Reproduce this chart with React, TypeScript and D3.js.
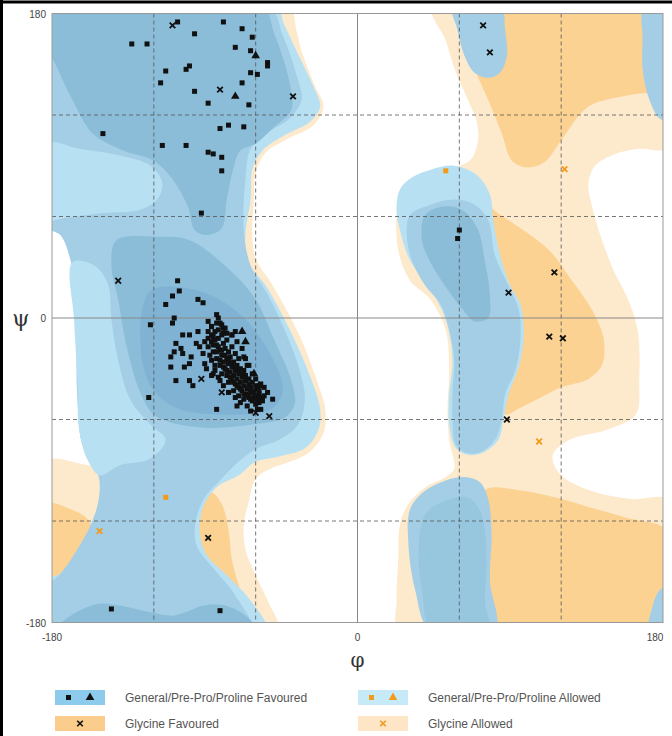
import { useEffect, useRef } from 'react';
import * as d3 from 'd3';

type Pt = [number, number];

// ---- contour regions (phi, psi in degrees) ----
const glyAllowedLeft: Pt[] = [[-122,185],[-41,185],[-36,170],[-33,158],[-25,137],[-20,125],[-26,114],[-41,106],[-54,98],[-60,86],[-61,70],[-62,50],[-60,35],[-51,21],[-42,5],[-33,-13],[-24,-37],[-19,-54],[-20,-68],[-28,-79],[-40,-85],[-51,-89],[-60,-95],[-64,-108],[-67,-122],[-66,-137],[-60,-152],[-53,-167],[-47,-185],[-122,-185]];
const glyAllowedCorner: Pt[] = [[-184,-85],[-164,-86],[-149,-91],[-143,-102],[-145,-116],[-152,-131],[-164,-146],[-175,-161],[-184,-167]];
const glyAllowedRight: Pt[] = [[44,185],[184,185],[184,101],[166,100],[152,97],[140,90],[136,79],[138,67],[143,49],[151,28],[159,12],[165,-7],[166,-37],[164,-57],[147,-66],[125,-72],[115,-81],[119,-92],[137,-102],[161,-107],[184,-108],[184,-185],[25,-185],[23,-167],[24,-143],[25,-122],[30,-110],[40,-100],[52,-94],[57,-89],[54,-72],[53,-54],[54,-31],[52,-7],[43,11],[31,22],[24,40],[23,61],[25,73],[34,82],[49,87],[66,93],[71,105],[70,117],[65,129],[57,148],[52,164]];

const glyFavCorner: Pt[] = [[-184,-110],[-169,-113],[-159,-119],[-155,-131],[-161,-143],[-172,-155],[-184,-164]];
const glyFavSliver: Pt[] = [[-93,-105],[-86,-103],[-80,-110],[-76,-125],[-74,-143],[-69,-161],[-62,-185],[-93,-185],[-96,-161],[-96,-131]];
const glyFavTop: Pt[] = [[57,185],[62,180],[69,148],[77,129],[85,109],[91,93],[100,89],[110,92],[120,105],[136,125],[156,131],[169,133],[184,134],[184,185]];
const glyFavMid: Pt[] = [[75,67],[84,61],[99,51],[113,40],[125,24],[138,5],[145,-12],[144,-28],[136,-36],[120,-41],[108,-47],[96,-53],[87,-57],[84,-37],[87,-13],[81,11],[77,34],[75,52]];
const glyFavBottom: Pt[] = [[75,-102],[96,-102],[116,-106],[137,-112],[158,-118],[184,-127],[184,-185],[77,-185],[78,-143]];

const genAllowedLeft: Pt[] = [[-184,185],[-49,185],[-43,173],[-36,158],[-26,137],[-22,125],[-28,116],[-43,108],[-56,99],[-62,88],[-63,70],[-66,50],[-65,34],[-54,19],[-46,5],[-37,-13],[-27,-37],[-22,-54],[-23,-66],[-31,-77],[-47,-82],[-60,-85],[-70,-93],[-83,-100],[-91,-112],[-93,-127],[-89,-140],[-77,-152],[-63,-167],[-54,-185],[-184,-185],[-184,-155],[-175,-151],[-164,-135],[-158,-125],[-153,-113],[-152,-96],[-155,-87],[-162,-75],[-165,-48],[-166,11],[-169,34],[-175,49],[-184,55]];
const genAllowedMidRight: Pt[] = [[25,76],[32,83],[44,88],[57,90],[71,84],[78,73],[80,58],[84,37],[90,19],[96,8],[98,-10],[95,-29],[89,-45],[86,-60],[83,-72],[75,-79],[66,-81],[58,-77],[54,-63],[54,-45],[56,-25],[52,-1],[43,17],[31,34],[25,52],[23,64]];

const genMidLeft: Pt[] = [[-184,185],[-53,185],[-44,167],[-36,144],[-33,129],[-40,118],[-54,109],[-63,100],[-66,82],[-67,52],[-63,31],[-53,14],[-43,-7],[-34,-31],[-31,-48],[-35,-63],[-46,-72],[-59,-77],[-69,-84],[-80,-95],[-90,-106],[-95,-119],[-95,-134],[-84,-149],[-72,-164],[-63,-185],[-184,-185],[-184,-161],[-174,-150],[-164,-135],[-158,-124],[-153,-110],[-152,-96],[-155,-87],[-162,-75],[-165,-48],[-166,11],[-169,34],[-175,49],[-184,55]];
const genMidRight: Pt[] = [[31,61],[43,67],[57,70],[69,67],[77,58],[81,37],[89,19],[95,5],[96,-13],[93,-31],[87,-45],[85,-60],[81,-72],[73,-79],[65,-80],[58,-75],[56,-60],[56,-43],[57,-25],[54,-7],[49,8],[40,19],[32,34],[29,49]];
const genTopRight: Pt[] = [[56,185],[84,185],[87,170],[88,155],[84,145],[77,142],[69,145],[63,155],[59,170]];
const genCornerTop: Pt[] = [[169,185],[184,185],[184,117],[178,118],[172,129],[168,147],[168,164]];
const genCornerBottom: Pt[] = [[172,-185],[184,-185],[184,-158],[178,-161],[174,-170]];
const genBottomRight: Pt[] = [[43,-185],[34,-161],[30,-134],[31,-113],[40,-102],[52,-96],[63,-94],[72,-97],[77,-107],[79,-128],[78,-155],[81,-185]];

const lightPatchTop: Pt[] = [[-184,103],[-164,100],[-140,96],[-122,90],[-115,80],[-118,70],[-128,64],[-150,62],[-166,60],[-178,58],[-184,56]];
const lightPatchLow: Pt[] = [[-168,33],[-155,31],[-147,20],[-145,-1],[-141,-25],[-134,-48],[-122,-63],[-113,-72],[-122,-83],[-140,-87],[-152,-93],[-159,-84],[-164,-66],[-165,-37],[-167,-1]];

const favTop: Pt[] = [[-184,185],[-57,185],[-49,168],[-40,139],[-39,123],[-49,113],[-60,103],[-69,99],[-73,89],[-77,70],[-80,53],[-89,49],[-96,52],[-100,66],[-109,82],[-120,93],[-138,99],[-156,109],[-168,129],[-177,148],[-184,164]];
const favHelix: Pt[] = [[-142,46],[-118,48],[-99,46],[-77,30],[-60,11],[-49,-13],[-39,-37],[-37,-51],[-43,-59],[-62,-63],[-85,-65],[-105,-63],[-120,-57],[-128,-44],[-136,-17],[-141,11],[-145,31]];
const favBottom: Pt[] = [[-178,-185],[-169,-176],[-153,-169],[-140,-170],[-122,-174],[-109,-176],[-99,-173],[-91,-170],[-78,-170],[-66,-176],[-59,-185]];
const favMidRight: Pt[] = [[40,61],[52,66],[63,63],[71,52],[75,34],[78,14],[77,0],[69,-2],[62,5],[53,17],[44,31],[38,46]];
const favBottomRight: Pt[] = [[44,-185],[38,-161],[36,-137],[40,-116],[52,-108],[65,-106],[73,-116],[76,-143],[75,-167],[77,-185]];
const coreHelix: Pt[] = [[-122,16],[-93,16],[-69,2],[-51,-22],[-44,-43],[-51,-54],[-81,-57],[-107,-53],[-122,-40],[-128,-13]];

// ---- residues ----
const favSquares: Pt[] = [
  [-133,162],[-124,162],[-106,175],[-96,168],[-79,175],[-68,171],[-62,166],[-72,160],[-63,158],[-53,151],[-53,149],
  [-99,149],[-101,147],[-113,146],[-116,139],[-63,145],[-59,144],[-68,139],[-96,134],[-88,127],[-64,126],
  [-150,109],[-115,102],[-101,102],[-81,112],[-76,114],[-67,113],[-88,98],[-85,97],[-80,95],[-80,87],[-92,62],
  [-106,22],[-105,16],[-109,13],[-113,8],[-94,11],[-91,9],[-108,0],[-109,-3],[-122,-4],[-83,2],[-82,0],
  [-123,-47],[-83,-54],[-145,-172],[-81,-173],
  [-88,-2],[-86,-5],[-103,-10],[-99,-10],[-94,-8],[-79,-6],[-74,-10],[-72,-8],[-107,-15],[-104,-18],[-108,-20],
  [-95,-15],[-93,-17],[-91,-21],[-110,-23],[-98,-23],[-103,-21],[-110,-29],[-102,-29],[-99,-27],[-107,-37],
  [-99,-37],[-97,-40],[-90,-27],[-86,-34],[-81,-37],[-71,-52],[-56,-47],[-50,-48],[-57,-54],[-65,-28],[-67,-23],
  [-84,-8],[-82,-12],[-80,-10],[-86,-14],[-83,-16],[-79,-15],[-77,-13],[-81,-19],[-85,-20],[-78,-18],[-76,-20],
  [-80,-22],[-83,-24],[-74,-17],[-77,-24],[-79,-26],[-75,-23],[-72,-21],[-81,-28],[-76,-27],[-73,-26],[-70,-24],
  [-78,-30],[-74,-29],[-71,-28],[-75,-32],[-72,-31],[-69,-30],[-77,-34],[-73,-34],[-70,-33],[-67,-31],[-74,-37],
  [-71,-36],[-68,-35],[-66,-34],[-72,-39],[-69,-38],[-66,-37],[-64,-36],[-70,-41],[-67,-40],[-64,-39],[-62,-38],
  [-68,-43],[-65,-42],[-63,-41],[-60,-40],[-66,-45],[-63,-44],[-61,-43],[-59,-42],[-64,-47],[-61,-46],[-58,-45],
  [-62,-49],[-59,-48],[-57,-47],[-60,-51],[-58,-50],[-56,-49],[-55,-46],[-87,-22],[-84,-28],[-80,-33],[-76,-38],
  [-73,-43],[-70,-46],[-67,-48],[-88,-12],[-78,-6],[-74,-10],[-71,-14],[-68,-18],[-66,-24],[-64,-28],[-62,-33],
  [-60,-36],[-57,-39],[-55,-41],[-82,-35],[-79,-40],[-76,-44],[-72,-47],[-69,-50],[-65,-52],[-89,-30],[-85,-33],
  [-63,-55],[-59,-54],[-53,-44],[-86,-5],[-81,-3],
  [-86,-10],[-84,-13],[-82,-17],[-80,-19],[-78,-22],[-76,-25],[-74,-27],[-72,-29],[-70,-31],[-68,-33],[-66,-36],
  [-64,-41],[-62,-44],[-60,-46],[-58,-43],[-81,-25],[-79,-29],[-77,-31],[-75,-35],[-73,-38],[-71,-40],[-69,-42],
  [-67,-45],[-65,-46],[-63,-48],[-88,-17],[-86,-25],[-84,-31],[-83,-20],[-85,-16],
  [-83,-3],[-80,-4],[-85,-11],[-82,-7],[-79,-9],[-77,-9],[-90,-14],[-88,-8],
  [60,52],[59,47],
];
const favTriangles: Pt[] = [[-60,155],[-72,131],[-68,-8],[-66,-14],[-61,-33],[-58,-40]];
const glyFavCrosses: Pt[] = [[-109,173],[-81,135],[-38,131],[-141,22],[-92,-36],[-80,-44],[-61,-48],[-60,-56],[-52,-58],[-88,-130],[74,173],[78,157],[116,27],[89,15],[113,-11],[121,-12],[88,-60]];
const allowedSquares: Pt[] = [[-113,-106],[52,87]];
const glyAllowedCrosses: Pt[] = [[-152,-126],[122,88],[107,-73]];

const axisTicks = [-180, 0, 180];
const gridDashed = [-120, -60, 60, 120];
const legendLabels = ['General/Pre-Pro/Proline Favoured', 'General/Pre-Pro/Proline Allowed', 'Glycine Favoured', 'Glycine Allowed'];

const PEACH = '#fde9cc';
const ORANGE = '#fcd292';
const LIGHT = '#b7e0f3';
const MID = '#a3cee5';
const DARK = '#8bbdd9';
const DARKER = '#80b3d3';
const MARK = '#111';
const MARK_ORANGE = '#f29a1c';

const App = () => {
  const svgRef = useRef<SVGSVGElement>(null);

  useEffect(() => {
    const svg = d3.select(svgRef.current);
    svg.selectAll('*').remove();

    const x = d3.scaleLinear().domain([-180, 180]).range([52, 663]);
    const y = d3.scaleLinear().domain([-180, 180]).range([622.5, 13.5]);

    svg.append('rect').attr('width', 672).attr('height', 736).attr('fill', '#fff');

    svg.append('defs').append('clipPath').attr('id', 'plot-clip')
      .append('rect')
      .attr('x', x(-180)).attr('y', y(180))
      .attr('width', x(180) - x(-180)).attr('height', y(-180) - y(180));

    const shape = d3.line<Pt>()
      .x(d => x(d[0]))
      .y(d => y(d[1]))
      .curve(d3.curveCatmullRomClosed.alpha(0.5));

    const layers: [Pt[], string][] = [
      [glyAllowedLeft, PEACH], [glyAllowedCorner, PEACH], [glyAllowedRight, PEACH],
      [glyFavCorner, ORANGE], [glyFavSliver, ORANGE], [glyFavTop, ORANGE], [glyFavMid, ORANGE], [glyFavBottom, ORANGE],
      [genAllowedLeft, LIGHT], [genAllowedMidRight, LIGHT],
      [genMidLeft, MID], [genMidRight, MID], [genTopRight, MID], [genCornerTop, MID], [genCornerBottom, MID], [genBottomRight, MID],
      [lightPatchTop, LIGHT], [lightPatchLow, LIGHT],
      [favTop, DARK], [favHelix, DARK], [favBottom, DARK], [favMidRight, DARK], [favBottomRight, '#97c6df'],
      [coreHelix, DARKER],
    ];

    const plot = svg.append('g').attr('clip-path', 'url(#plot-clip)');
    layers.forEach(([pts, color]) => {
      plot.append('path').attr('d', shape(pts)).attr('fill', color).attr('stroke', 'none');
    });

    // grid
    gridDashed.forEach(v => {
      svg.append('line').attr('x1', x(v)).attr('x2', x(v)).attr('y1', y(180)).attr('y2', y(-180))
        .attr('stroke', '#555').attr('stroke-width', 0.8).attr('stroke-dasharray', '4,3');
      svg.append('line').attr('x1', x(-180)).attr('x2', x(180)).attr('y1', y(v)).attr('y2', y(v))
        .attr('stroke', '#555').attr('stroke-width', 0.8).attr('stroke-dasharray', '4,3');
    });
    svg.append('line').attr('x1', x(0)).attr('x2', x(0)).attr('y1', y(180)).attr('y2', y(-180))
      .attr('stroke', '#888').attr('stroke-width', 1);
    svg.append('line').attr('x1', x(-180)).attr('x2', x(180)).attr('y1', y(0)).attr('y2', y(0))
      .attr('stroke', '#888').attr('stroke-width', 1);
    svg.append('rect')
      .attr('x', x(-180)).attr('y', y(180))
      .attr('width', x(180) - x(-180)).attr('height', y(-180) - y(180))
      .attr('fill', 'none').attr('stroke', '#999').attr('stroke-width', 1);

    // markers
    const crossPath = 'M-2.8,-2.8L2.8,2.8M-2.8,2.8L2.8,-2.8';
    const tri = d3.symbol().type(d3.symbolTriangle).size(32);

    const addSquares = (data: Pt[], color: string) => {
      svg.append('g').selectAll('rect').data(data).enter().append('rect')
        .attr('x', d => x(d[0]) - 2.5).attr('y', d => y(d[1]) - 2.5)
        .attr('width', 5).attr('height', 5).attr('fill', color);
    };
    const addCrosses = (data: Pt[], color: string) => {
      svg.append('g').selectAll('path').data(data).enter().append('path')
        .attr('transform', d => `translate(${x(d[0])},${y(d[1])})`)
        .attr('d', crossPath).attr('stroke', color).attr('stroke-width', 1.8).attr('fill', 'none');
    };

    addSquares(favSquares, MARK);
    svg.append('g').selectAll('path').data(favTriangles).enter().append('path')
      .attr('transform', d => `translate(${x(d[0])},${y(d[1])})`)
      .attr('d', tri()).attr('fill', MARK);
    addCrosses(glyFavCrosses, MARK);
    addSquares(allowedSquares, MARK_ORANGE);
    addCrosses(glyAllowedCrosses, MARK_ORANGE);

    // tick labels
    const font = '"Liberation Sans", Arial, sans-serif';
    axisTicks.forEach(v => {
      svg.append('text').attr('x', 46).attr('y', y(v) + 4).attr('text-anchor', 'end')
        .style('font-family', font).style('font-size', '10px').attr('fill', '#444').text(String(v));
      svg.append('text').attr('x', v === 180 ? x(v) - 8 : x(v)).attr('y', 641).attr('text-anchor', 'middle')
        .style('font-family', font).style('font-size', '10px').attr('fill', '#444').text(String(v));
    });

    svg.append('text').attr('x', 21).attr('y', 326).attr('text-anchor', 'middle')
      .style('font-family', '"DejaVu Serif", serif').style('font-size', '22px').attr('fill', '#333').text('ψ');
    svg.append('text').attr('x', x(0)).attr('y', 667).attr('text-anchor', 'middle')
      .style('font-family', '"DejaVu Serif", serif').style('font-size', '20px').attr('fill', '#333').text('φ');

    // legend
    const legend = svg.append('g');
    const rows = [
      { sx: 55, sy: 690, fill: '#8ccbeb', label: legendLabels[0] },
      { sx: 358, sy: 690, fill: '#c6eaf8', label: legendLabels[1] },
      { sx: 55, sy: 716, fill: '#fbcd8d', label: legendLabels[2] },
      { sx: 358, sy: 716, fill: '#fde5c5', label: legendLabels[3] },
    ];
    rows.forEach(r => {
      legend.append('rect').attr('x', r.sx).attr('y', r.sy).attr('width', 50).attr('height', 15).attr('fill', r.fill);
      legend.append('text').attr('x', r.sx + 70).attr('y', r.sy + 12)
        .style('font-family', font).style('font-size', '12px').attr('fill', '#555').text(r.label);
    });
    const cy1 = 697.5, cy2 = 723.5;
    legend.append('rect').attr('x', 66).attr('y', cy1 - 2.5).attr('width', 5).attr('height', 5).attr('fill', MARK);
    legend.append('path').attr('transform', `translate(90,${cy1})`).attr('d', tri()).attr('fill', MARK);
    legend.append('rect').attr('x', 369).attr('y', cy1 - 2.5).attr('width', 5).attr('height', 5).attr('fill', MARK_ORANGE);
    legend.append('path').attr('transform', `translate(393,${cy1})`).attr('d', tri()).attr('fill', MARK_ORANGE);
    legend.append('path').attr('transform', `translate(80,${cy2})`).attr('d', crossPath)
      .attr('stroke', MARK).attr('stroke-width', 1.6);
    legend.append('path').attr('transform', `translate(383,${cy2})`).attr('d', crossPath)
      .attr('stroke', MARK_ORANGE).attr('stroke-width', 1.6);

    // outer frame
    svg.append('line').attr('x1', 0).attr('x2', 672).attr('y1', 2).attr('y2', 2).attr('stroke', '#000').attr('stroke-width', 3);
    svg.append('line').attr('x1', 1.5).attr('x2', 1.5).attr('y1', 0).attr('y2', 736).attr('stroke', '#000').attr('stroke-width', 3);
  }, []);

  return (
    <svg ref={svgRef} width={672} height={736}
      style={{ position: 'absolute', left: 0, top: 0, display: 'block' }} />
  );
};

export default App;
